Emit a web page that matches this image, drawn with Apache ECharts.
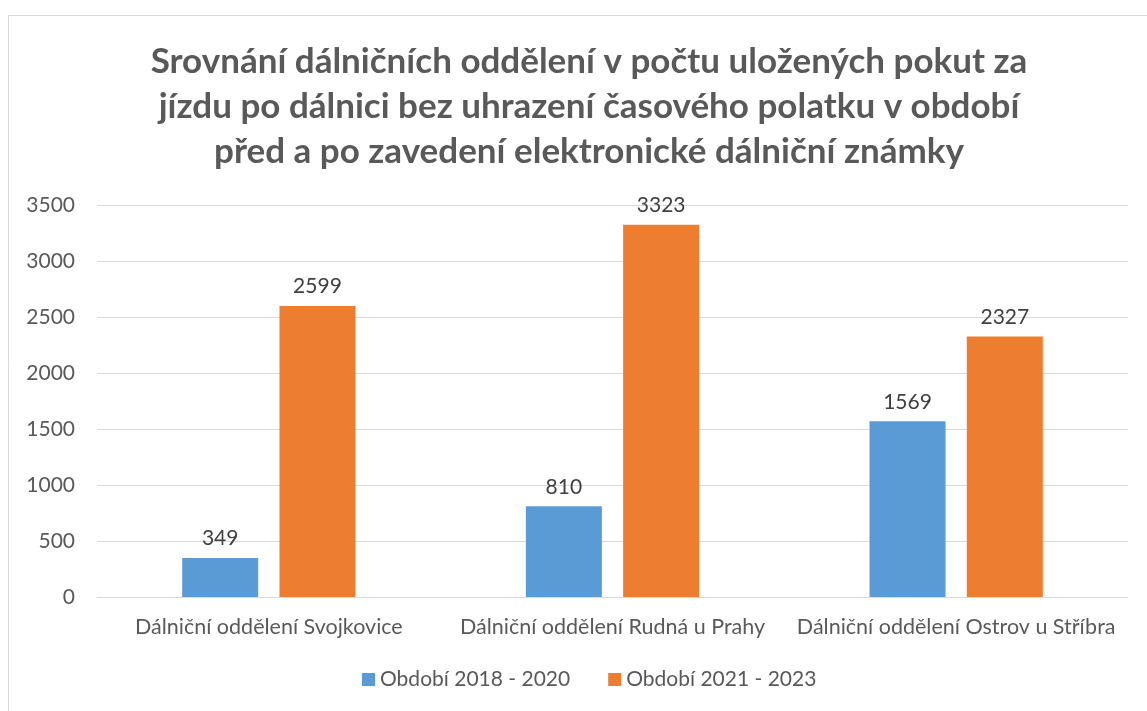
<!DOCTYPE html>
<html><head><meta charset="utf-8">
<script src="https://cdn.jsdelivr.net/npm/echarts@6/dist/echarts.min.js"></script>
<style>html,body{margin:0;padding:0;background:#fff}#c{width:1147px;height:711px}</style>
</head><body><div id="c"></div>
<script>
const titleText = 'Srovnání dálničních oddělení v počtu uložených pokut za\njízdu po dálnici bez uhrazení časového polatku v období\npřed a po zavedení elektronické dálniční známky';
const categories = ['Dálniční oddělení Svojkovice', 'Dálniční oddělení Rudná u Prahy', 'Dálniční oddělení Ostrov u Stříbra'];
const seriesNames = ['Období 2018 - 2020', 'Období 2021 - 2023'];
const values2018 = [349, 810, 1569];
const values2021 = [2599, 3323, 2327];
const colors = ['#5B9BD5', '#ED7D31'];
const font = 'Lato, "Open Sans", sans-serif';

const chart = echarts.init(document.getElementById('c'));
chart.setOption({
  animation: false,
  graphic: [{type: 'rect', shape: {x: 8.5, y: 15.5, width: 1160, height: 720}, style: {fill: 'none', stroke: '#d9d9d9', lineWidth: 1}}],
  title: {
    text: titleText, left: 584, textAlign: 'center', top: 34,
    textStyle: {fontFamily: font, fontWeight: 'bold', fontSize: 35, color: '#595959', lineHeight: 45}
  },
  legend: {
    bottom: 16, left: 357, itemWidth: 13, itemHeight: 13, itemGap: 38,
    icon: 'rect',
    textStyle: {fontFamily: font, fontSize: 21, color: '#595959'},
    data: seriesNames
  },
  grid: {left: 97, right: 19, top: 205, bottom: 114, containLabel: false},
  xAxis: {
    type: 'category', data: categories,
    axisLine: {lineStyle: {color: '#d9d9d9', width: 1}},
    axisTick: {show: false},
    axisLabel: {fontFamily: font, fontSize: 21.5, color: '#595959', margin: 19, interval: 0}
  },
  yAxis: {
    type: 'value', min: 0, max: 3500, interval: 500,
    axisLine: {show: false}, axisTick: {show: false},
    splitLine: {lineStyle: {color: '#d9d9d9', width: 1}},
    axisLabel: {fontFamily: font, fontSize: 21, color: '#595959', margin: 22, formatter: v => String(v)}
  },
  series: [
    {name: seriesNames[0], type: 'bar', data: values2018, itemStyle: {color: colors[0]},
     barWidth: 76, barGap: '28%',
     label: {show: true, position: 'top', distance: 9, fontFamily: font, fontSize: 21, color: '#404040'}},
    {name: seriesNames[1], type: 'bar', data: values2021, itemStyle: {color: colors[1]},
     barWidth: 76,
     label: {show: true, position: 'top', distance: 9, fontFamily: font, fontSize: 21, color: '#404040'}}
  ]
});
</script></body></html>
